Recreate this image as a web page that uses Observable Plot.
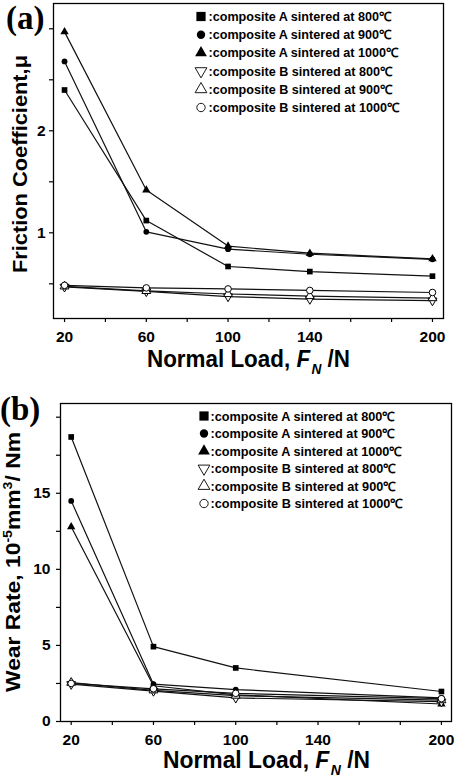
<!DOCTYPE html>
<html>
<head>
<meta charset="utf-8">
<script src="https://cdn.jsdelivr.net/npm/d3@7"></script>
<script src="https://cdn.jsdelivr.net/npm/@observablehq/plot@0.6"></script>
<style>
  html, body { margin: 0; padding: 0; background: #fff; }
  #chart { width: 460px; }
  #chart svg { display: block; }
</style>
</head>
<body>
<div id="chart"></div>
<script>
// Normal loads (N) at which each test was run
const loadsFriction = [20, 60, 100, 140, 200];
const loadsWear = [20, 60, 100, 200];

// Series names, in legend order
const seriesLabels = [
  ":composite A sintered at 800℃",
  ":composite A sintered at 900℃",
  ":composite A sintered at 1000℃",
  ":composite B sintered at 800℃",
  ":composite B sintered at 900℃",
  ":composite B sintered at 1000℃"
];

// (a) friction coefficient μ
const frictionA800 = [2.40, 1.12, 0.67, 0.62, 0.575];
const frictionA900 = [2.68, 1.01, 0.84, 0.79, 0.74];
const frictionA1000 = [2.97, 1.42, 0.87, 0.80, 0.745];
const frictionB800 = [0.47, 0.425, 0.375, 0.35, 0.335];
const frictionB900 = [0.475, 0.43, 0.40, 0.38, 0.36];
const frictionB1000 = [0.485, 0.46, 0.45, 0.435, 0.415];

// (b) wear rate, 10^-5 mm^3/Nm
const wearA800 = [18.7, 4.92, 3.52, 1.97];
const wearA900 = [14.5, 2.45, 2.10, 1.55];
const wearA1000 = [12.8, 2.35, 1.75, 1.15];
const wearB800 = [2.45, 2.00, 1.55, 1.30];
const wearB900 = [2.55, 2.05, 1.70, 1.40];
const wearB1000 = [2.50, 2.15, 1.85, 1.50];

// Axis ticks and the ticks that carry a label
const xTicks = [20, 40, 60, 80, 100, 120, 140, 160, 180, 200];
const xTickLabels = [20, 60, 100, 140, 200];
const frictionTicks = [0.5, 1, 1.5, 2, 2.5, 3];
const frictionTickLabels = [1, 2];
const wearTicks = [0, 2.5, 5, 7.5, 10, 12.5, 15, 17.5, 20];
const wearTickLabels = [0, 5, 10, 15];

// Downward-pointing triangle (d3 only ships the upward one)
const triangleDown = {
  draw(context, size) {
    const y = -Math.sqrt(size / (Math.sqrt(3) * 3));
    context.moveTo(0, -y * 2);
    context.lineTo(-Math.sqrt(3) * y, y);
    context.lineTo(Math.sqrt(3) * y, y);
    context.closePath();
  }
};

const seriesStyle = [
  {symbol: "square", filled: true, r: 3.2},
  {symbol: "circle", filled: true, r: 2.9},
  {symbol: "triangle", filled: true, r: 3.1},
  {symbol: triangleDown, filled: false, r: 3.3},
  {symbol: "triangle", filled: false, r: 3.3},
  {symbol: "circle", filled: false, r: 3.3}
];
const d3Symbols = {square: d3.symbolSquare, circle: d3.symbolCircle, triangle: d3.symbolTriangle};
const legendSizes = [85, 55, 60, 60, 60, 55];

const FONT = "'Liberation Sans', Arial, sans-serif";
const SERIF = "'Liberation Serif', 'Times New Roman', serif";

function makePanel({loads, series, height, margins, xDomain, yDomain, yTicks, yTickLabels, yPadding}) {
  const rows = series.flatMap((vals, i) => vals.map((v, j) => ({s: i, load: loads[j], value: v})));
  const dots = seriesStyle.map((st, i) => Plot.dot(rows.filter(d => d.s === i), {
    x: "load", y: "value", symbol: st.symbol, r: st.r,
    fill: st.filled ? "#000" : "#fff",
    stroke: st.filled ? "none" : "#000",
    strokeWidth: 1
  }));
  return Plot.plot({
    width: 460,
    height,
    ...margins,
    style: {fontFamily: FONT, fontWeight: "bold", fontSize: "15.5px", color: "#000", background: "#fff", overflow: "visible"},
    x: {domain: xDomain},
    y: {domain: yDomain},
    marks: [
      Plot.line(rows, {x: "load", y: "value", z: "s", stroke: "#111", strokeWidth: 1.2}),
      ...dots,
      Plot.frame({stroke: "#000", strokeWidth: 1.3}),
      Plot.axisX({ticks: xTicks, tickSize: 4, tickPadding: 8, strokeWidth: 1.2,
        tickFormat: d => xTickLabels.includes(d) ? String(d) : "", label: null}),
      Plot.axisY({ticks: yTicks, tickSize: 4, tickPadding: yPadding, strokeWidth: 1.2,
        tickFormat: d => yTickLabels.includes(d) ? String(d) : "", label: null})
    ]
  });
}

function addPanelTag(svg, tag, x, y) {
  d3.select(svg).append("text")
    .attr("x", x).attr("y", y)
    .attr("text-anchor", "start")
    .attr("font-family", SERIF).attr("font-weight", "bold").attr("font-size", 33)
    .attr("fill", "#000")
    .text(tag);
}

function addXTitle(svg, cx, baseline, length) {
  const t = d3.select(svg).append("text")
    .attr("x", cx).attr("y", baseline)
    .attr("text-anchor", "middle")
    .attr("font-family", FONT).attr("font-weight", "bold").attr("font-size", 24.5)
    .attr("fill", "#000")
    .attr("textLength", length).attr("lengthAdjust", "spacingAndGlyphs");
  t.append("tspan").text("Normal Load, ");
  t.append("tspan").attr("font-style", "italic").text("F");
  t.append("tspan").attr("font-style", "italic").attr("font-size", 15).attr("dx", 1.5).attr("dy", 7).text("N");
  t.append("tspan").attr("dy", -7).text(" /N");
}

function addYTitle(svg, baselineX, cy, length, parts) {
  const t = d3.select(svg).append("text")
    .attr("transform", `translate(${baselineX},${cy}) rotate(-90)`)
    .attr("text-anchor", "middle")
    .attr("font-family", FONT).attr("font-weight", "bold").attr("font-size", 21)
    .attr("fill", "#000")
    .attr("textLength", length).attr("lengthAdjust", "spacingAndGlyphs");
  for (const p of parts) {
    const span = t.append("tspan").text(p.text);
    if (p.sup) span.attr("font-size", 13).attr("dy", -8);
    if (p.back) span.attr("dy", 8);
  }
}

function addLegend(svg, symbolX, textX, firstY, step, fontSize) {
  const g = d3.select(svg).append("g").attr("text-anchor", "start");
  seriesLabels.forEach((label, i) => {
    const st = seriesStyle[i];
    const y = firstY + i * step;
    const type = typeof st.symbol === "string" ? d3Symbols[st.symbol] : st.symbol;
    g.append("path")
      .attr("transform", `translate(${symbolX},${y})`)
      .attr("d", d3.symbol(type, legendSizes[i])())
      .attr("fill", st.filled ? "#000" : "#fff")
      .attr("stroke", st.filled ? "none" : "#000")
      .attr("stroke-width", 0.9);
    g.append("text")
      .attr("x", textX).attr("y", y)
      .attr("dy", "0.36em")
      .attr("text-anchor", "start")
      .attr("font-family", FONT).attr("font-weight", "bold").attr("font-size", fontSize)
      .attr("fill", "#000")
      .text(label);
  });
}

const chart = document.getElementById("chart");

// (a) friction coefficient vs load
const panelA = makePanel({
  loads: loadsFriction,
  series: [frictionA800, frictionA900, frictionA1000, frictionB800, frictionB900, frictionB1000],
  height: 390,
  margins: {marginLeft: 53, marginRight: 17, marginTop: 3, marginBottom: 72},
  xDomain: [14.6, 205.4],
  yDomain: [0.16, 3.248],
  yTicks: frictionTicks,
  yTickLabels: frictionTickLabels,
  yPadding: 4
});
addLegend(panelA, 201, 208.5, 16.5, 18.2, 12.6);
addXTitle(panelA, 248.5, 366.5, 203);
addYTitle(panelA, 27, 164, 218, [{text: "Friction Coefficient,μ"}]);
addPanelTag(panelA, "(a)", 6, 29);
chart.appendChild(panelA);

// (b) wear rate vs load
const panelB = makePanel({
  loads: loadsWear,
  series: [wearA800, wearA900, wearA1000, wearB800, wearB900, wearB1000],
  height: 388,
  margins: {marginLeft: 60, marginRight: 9, marginTop: 13, marginBottom: 57},
  xDomain: [14.8, 204.9],
  yDomain: [0, 20.9],
  yTicks: wearTicks,
  yTickLabels: wearTickLabels,
  yPadding: 6
});
addLegend(panelB, 204, 210.5, 26, 17.5, 12.7);
addXTitle(panelB, 266.5, 377.5, 207);
addYTitle(panelB, 20, 172, 260, [
  {text: "Wear Rate, 10"}, {text: "-5", sup: true}, {text: "mm", back: true},
  {text: "3", sup: true}, {text: "/ Nm", back: true}
]);
addPanelTag(panelB, "(b)", 0, 30);
chart.appendChild(panelB);
</script>
</body>
</html>
